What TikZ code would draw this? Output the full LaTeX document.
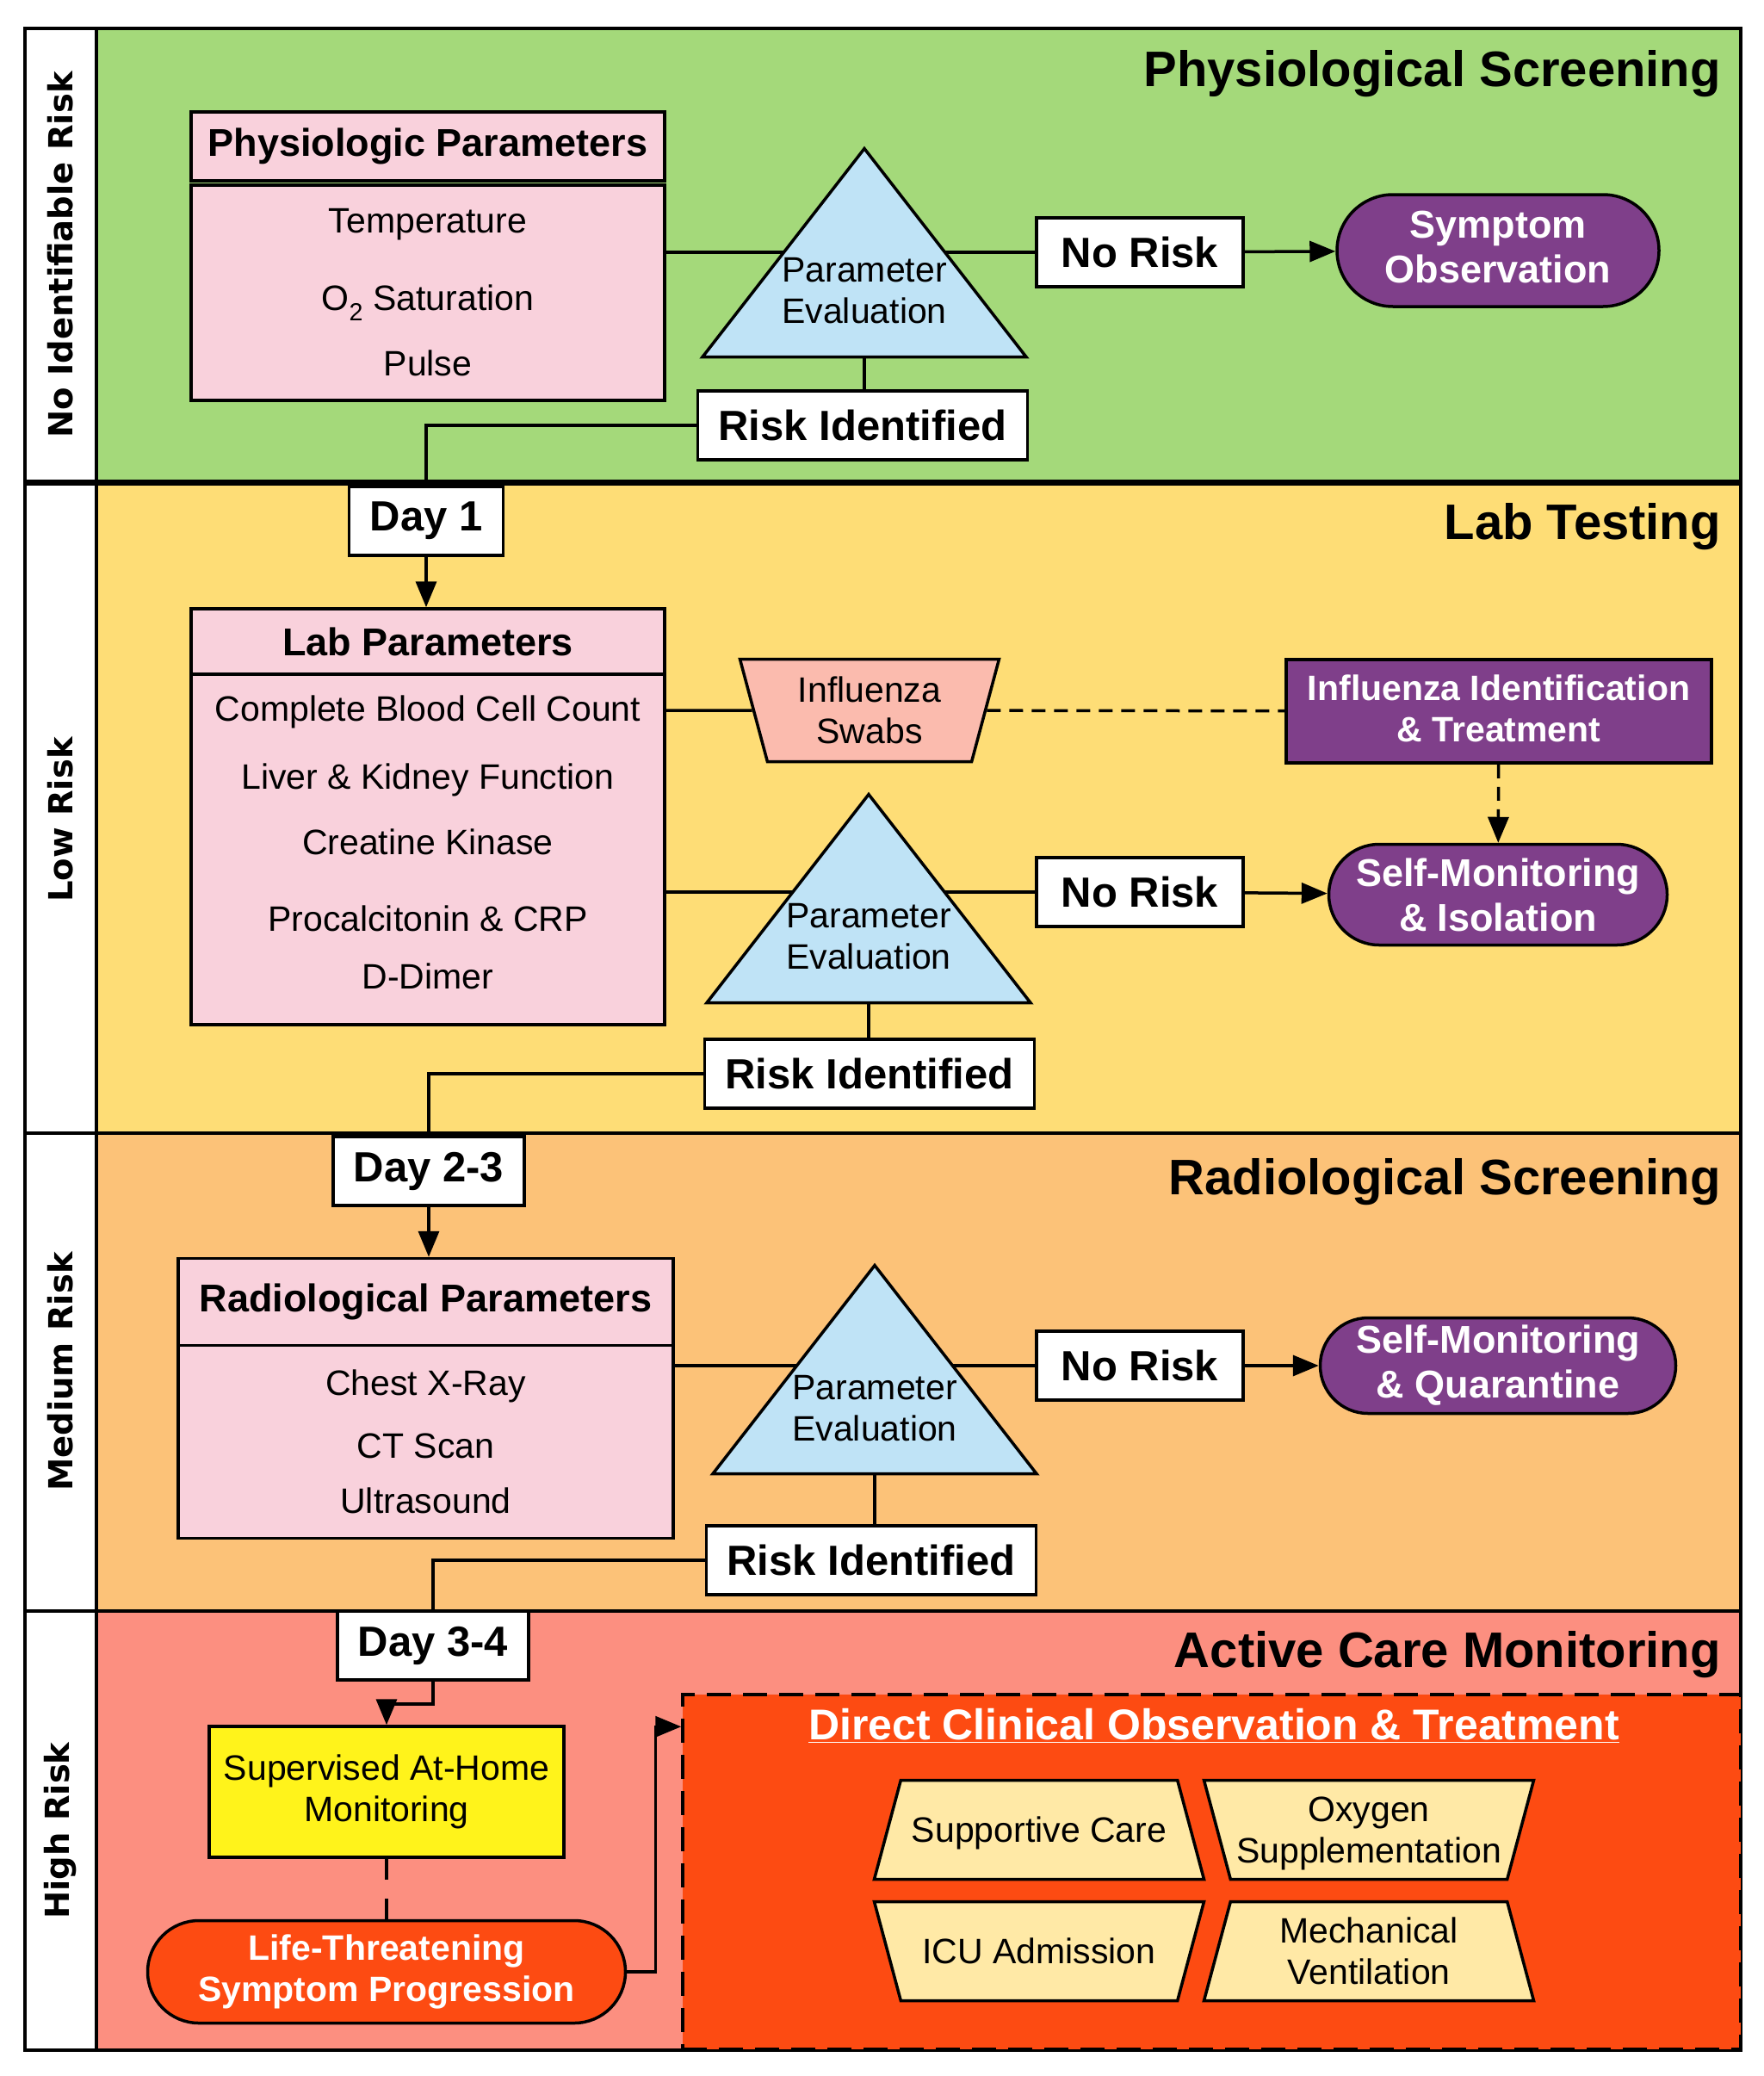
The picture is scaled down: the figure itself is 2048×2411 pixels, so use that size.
\documentclass[tikz,border=0pt]{standalone}
\usepackage{fontspec}
\setmainfont{Liberation Sans}
\newfontfamily\lanefam{DejaVu Sans}
\usetikzlibrary{arrows.meta,positioning,shapes.geometric,shapes.misc}

\definecolor{physgreen}{HTML}{A4D97A}
\definecolor{labyellow}{HTML}{FEDD76}
\definecolor{radorange}{HTML}{FCC278}
\definecolor{caresalmon}{HTML}{FC8F80}
\definecolor{parpink}{HTML}{F9D1DC}
\definecolor{evalblue}{HTML}{BFE3F6}
\definecolor{outpurple}{HTML}{7F3F8A}
\definecolor{swabpink}{HTML}{FBBBAE}
\definecolor{homeyellow}{HTML}{FFF31B}
\definecolor{alertred}{HTML}{FD4B12}
\definecolor{carecream}{HTML}{FFE9A6}

\pgfdeclarelayer{lanes}
\pgfdeclarelayer{wires}
\pgfsetlayers{lanes,wires,main}

\newcommand{\phasesize}{\fontsize{58}{65}\selectfont}
\newcommand{\tagsize}{\fontsize{49}{56}\selectfont}
\newcommand{\headsize}{\fontsize{45}{52}\selectfont}
\newcommand{\itemsize}{\fontsize{41}{48}\selectfont}
\newcommand{\lanesize}{\fontsize{38.5}{44}\selectfont}
% struts that fix the height of the trapezium texts
\newcommand{\oneline}{\rule[-43pt]{0pt}{115pt}}
\newcommand{\firsttop}[1]{\rule{0pt}{#1}}
\newcommand{\lastdown}[1]{\rule[-#1]{0pt}{#1}}

\begin{document}
\begin{tikzpicture}[x=1pt, y=-1pt, >={Triangle[length=30pt,width=24pt]},
    wire/.style={line width=3.5pt},
    dashwire/.style={wire, dash pattern=on 16pt off 10pt},
    tagbox/.style={draw, line width=3.5pt, fill=white, font=\bfseries\tagsize, inner xsep=24pt, minimum height=80pt},
    parhead/.style={draw, line width=3.5pt, fill=parpink, font=\bfseries\headsize},
    parbody/.style={draw, line width=3.5pt, fill=parpink, font=\itemsize, align=center},
    evaltri/.style={draw, line width=3.5pt, fill=evalblue, isosceles triangle, isosceles triangle stretches, shape border rotate=90, minimum width=376pt, minimum height=242pt, inner sep=0pt, anchor=apex},
    evaltext/.style={font=\itemsize, align=center, inner sep=0pt},
    outcome/.style={draw, line width=3.5pt, fill=outpurple, text=white, font=\bfseries\headsize, align=center, rounded rectangle, inner sep=0pt},
    outbox/.style={draw, line width=3.5pt, fill=outpurple, text=white, font=\bfseries\itemsize, align=center, minimum width=494pt, minimum height=120pt},
    phase/.style={anchor=east, font=\bfseries\phasesize, inner sep=0pt},
    trap/.style={draw, line width=3.5pt, trapezium, trapezium stretches body, trapezium left angle=75, trapezium right angle=75, font=\itemsize, align=center, inner sep=0pt},
    care/.style={trap, fill=carecream, minimum width=383pt},
  ]
  \useasboundingbox (0,0) rectangle (2048,2411);

  % swim lanes
  \begin{pgfonlayer}{lanes}
    \foreach \ya/\yb/\ly/\col/\lanename [count=\i] in {33/560/296/physgreen/No Identifiable Risk, 560/1316/952/labyellow/Low Risk, 1316/1871/1593/radorange/Medium Risk, 1871/2381/2126/caresalmon/High Risk}{
      \draw[wire, fill=\col] (112,\ya) rectangle (2022,\yb);
      \draw[wire, fill=white] (29,\ya) rectangle (112,\yb);
      \node[rotate=90, font=\lanefam\bfseries\lanesize] (lane\i) at (70,\ly) {\lanename};
    }
    \draw[line width=7pt] (29,560) -- (2022,560);
  \end{pgfonlayer}

  % phase titles
  \node[phase] (phys) at (1999,86) {Physiological Screening};
  \node[phase] (lab) at (1999,612) {Lab Testing};
  \node[phase] (rad) at (1999,1373) {Radiological Screening};
  \node[phase] (acm) at (1999,1922) {Active Care Monitoring};

  % physiological screening
  \node[parhead, minimum width=550pt, minimum height=80pt] (phyhead) at (497,170) {Physiologic Parameters};
  \node[parbody, minimum width=550pt, minimum height=250pt, below=1.5pt of phyhead] (phybody) {Temperature\\[42pt]O\textsubscript{2} Saturation\\[28pt]Pulse};
  \node[evaltri] (tri1) at (1004,168) {};
  \node[evaltext] (ev1) at ([yshift=79pt]tri1.south) {Parameter\\Evaluation};
  \node[tagbox, minimum width=240pt] (norisk1) at (1324,293) {No Risk};
  \node[outcome, minimum width=374pt, minimum height=130pt] (symobs) at (1740,291) {Symptom\\Observation\rule[-8pt]{0pt}{8pt}};
  \node[tagbox] (risk1) at (1002,494) {Risk Identified};
  \node[tagbox] (day1) at (495,605) {Day 1};

  % lab testing
  \node[parhead, minimum width=550pt, minimum height=76pt] (labhead) at (497,745) {Lab Parameters};
  \node[parbody, minimum width=550pt, minimum height=407pt, below=-3.5pt of labhead] (labbody) {Complete Blood Cell Count\\[31pt]Liver \& Kidney Function\\[28pt]Creatine Kinase\\[41pt]Procalcitonin \& CRP\\[19pt]D-Dimer\rule[-16pt]{0pt}{16pt}};
  \node[trap, shape border rotate=180, fill=swabpink, minimum width=301pt] (swabs) at (1010,825) {\firsttop{50pt}Influenza\\Swabs\lastdown{21pt}};
  \node[outbox] (fluid) at (1741,826) {Influenza Identification\\\& Treatment\rule[-6pt]{0pt}{6pt}};
  \node[evaltri] (tri2) at (1009,918) {};
  \node[evaltext] (ev2) at ([yshift=79pt]tri2.south) {Parameter\\Evaluation};
  \node[tagbox, minimum width=240pt] (norisk2) at (1324,1036) {No Risk};
  \node[outcome, minimum width=393pt, minimum height=117pt] (selfiso) at (1740,1039) {Self-Monitoring\\\& Isolation};
  \node[tagbox] (risk2) at (1010,1247) {Risk Identified};
  \node[tagbox] (day23) at (498,1360) {Day 2-3};

  % radiological screening
  \node[parhead, minimum width=575pt, minimum height=101pt] (radhead) at (494.5,1512) {Radiological Parameters};
  \node[parbody, minimum width=575pt, minimum height=224pt, below=-3.5pt of radhead] (radbody) {Chest X-Ray\\[25pt]CT Scan\\[16pt]Ultrasound};
  \node[evaltri] (tri3) at (1016,1465) {};
  \node[evaltext] (ev3) at ([yshift=78pt]tri3.south) {Parameter\\Evaluation};
  \node[tagbox, minimum width=240pt] (norisk3) at (1324,1586) {No Risk};
  \node[outcome, minimum width=413pt, minimum height=111pt] (selfquar) at (1740,1586) {Self-Monitoring\\\& Quarantine};
  \node[tagbox] (risk3) at (1012,1812) {Risk Identified};
  \node[tagbox] (day34) at (503,1911) {Day 3-4};

  % active care monitoring
  \node[draw, line width=3.5pt, fill=homeyellow, font=\itemsize, align=center, minimum width=412pt, minimum height=152pt] (superv) at (449,2081) {Supervised At-Home\\Monitoring};
  \node[draw, line width=3.5pt, fill=alertred, text=white, font=\bfseries\itemsize, align=center, rounded rectangle, minimum width=555pt, minimum height=119pt, inner sep=0pt] (lifeth) at (449,2290) {Life-Threatening\\Symptom Progression};
  \node[draw, line width=3.5pt, dash pattern=on 28pt off 14pt, fill=alertred, minimum width=1229pt, minimum height=412pt] (clinic) at (1407.5,2174) {};
  \coordinate (clinicin) at ([yshift=-39pt]clinic.north west);
  \node[text=white, font=\bfseries\fontsize{50}{56}\selectfont, inner sep=0pt] (clinictitle) at (1410,2004) {\underline{Direct Clinical Observation \& Treatment}};
  \node[care] (supp) at (1207,2125) {\oneline Supportive Care};
  \node[care, shape border rotate=180] (oxy) at (1590,2125) {\firsttop{48pt}Oxygen\\Supplementation\lastdown{19pt}};
  \node[care, shape border rotate=180] (icu) at (1207,2266) {\oneline ICU Admission};
  \node[care] (vent) at (1590,2266) {\firsttop{48pt}Mechanical\\Ventilation\lastdown{19pt}};

  % connectors
  \begin{pgfonlayer}{wires}
    \draw[wire] (phybody.east |- norisk1) -- (norisk1);
    \draw[wire, ->] (norisk1) -- (symobs);
    \draw[wire] (tri1.south) -- (tri1.south |- risk1.north);
    \draw[wire] (risk1.west) -| (day1);
    \draw[wire, ->] (day1) -- (day1 |- labhead.north);

    \draw[wire] (labbody.east |- swabs) -- (swabs);
    \draw[dashwire] (swabs) -- (fluid);
    \draw[dashwire, ->] (fluid) -- (selfiso);
    \draw[wire] (labbody.east |- norisk2) -- (norisk2);
    \draw[wire, ->] (norisk2) -- (selfiso);
    \draw[wire] (tri2.south) -- (tri2.south |- risk2.north);
    \draw[wire] (risk2.west) -| (day23);
    \draw[wire, ->] (day23) -- (day23 |- radhead.north);

    \draw[wire] (radbody.east |- norisk3) -- (norisk3);
    \draw[wire, ->] (norisk3) -- (selfquar);
    \draw[wire] (tri3.south) -- (tri3.south |- risk3.north);
    \draw[wire] (risk3.west) -| (day34);

    \draw[wire, ->] (day34.south) -- ++(0,26) -| (superv.north);
    \draw[wire, dash pattern=on 24pt off 22pt] (superv) -- (lifeth);
    \draw[wire, ->] (lifeth.east) -- ++(33,0) |- (clinicin);
  \end{pgfonlayer}
\end{tikzpicture}
\end{document}
